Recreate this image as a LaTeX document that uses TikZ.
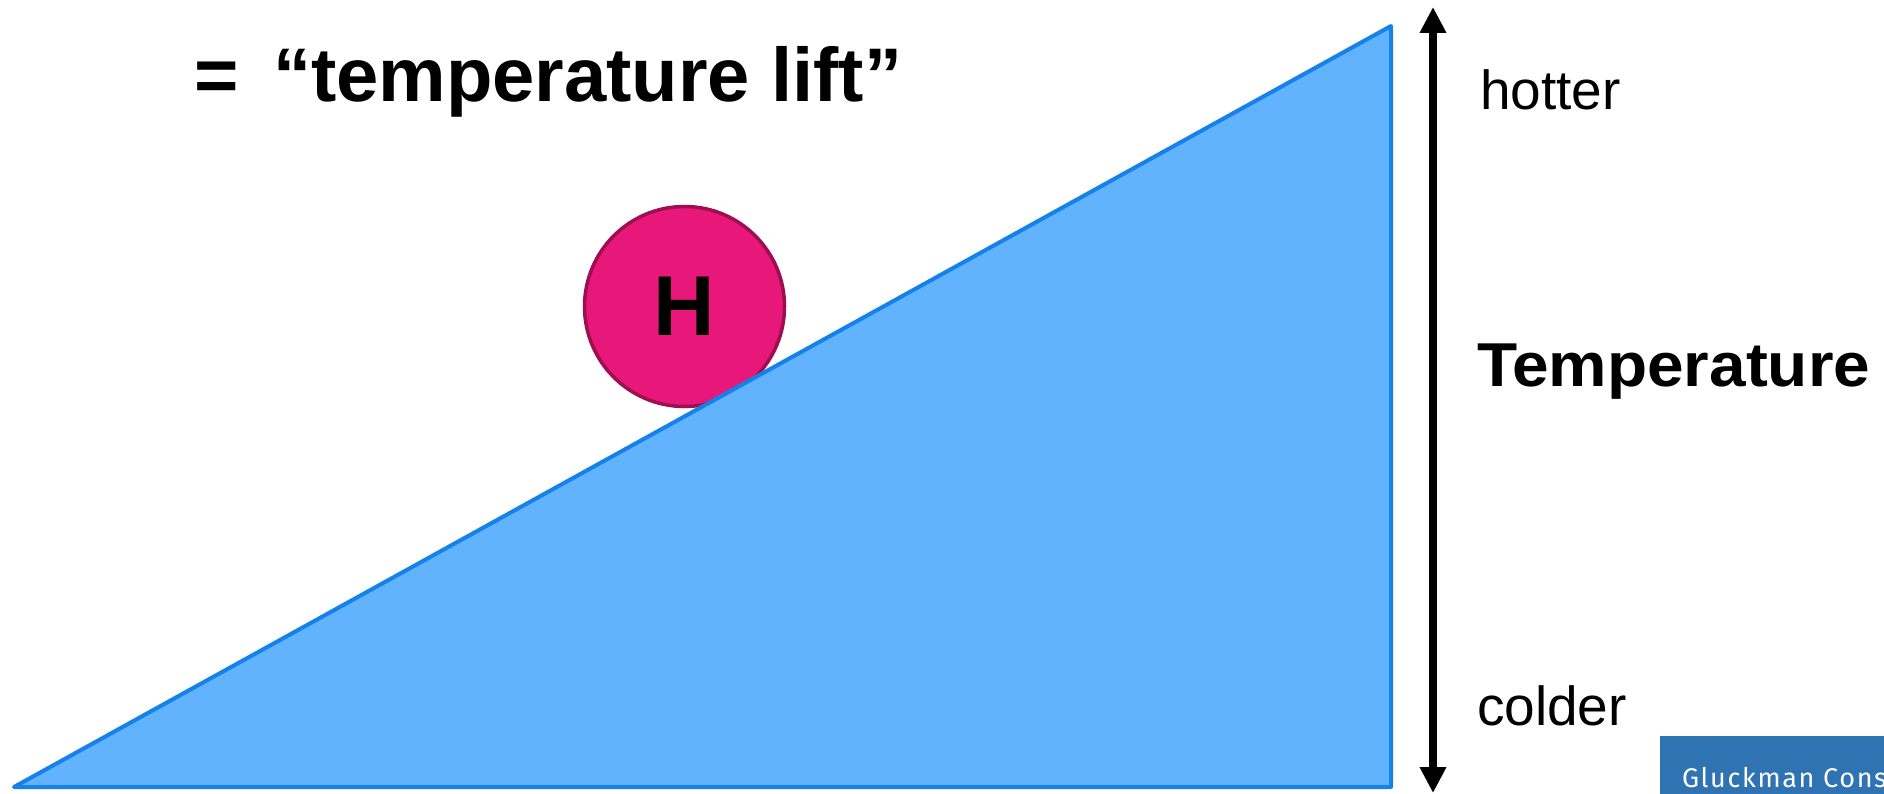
\documentclass[tikz,border=0pt]{standalone}
\usepackage{fontspec}
\setmainfont{Liberation Sans}
\newfontfamily\boxfont[LetterSpace=6]{Fira Sans}
\newfontfamily\wideboldfont[FakeStretch=1.06]{Liberation Sans Bold}
\usetikzlibrary{arrows.meta}
\definecolor{triFill}{HTML}{61B3FD}
\definecolor{triEdge}{HTML}{1681E8}
\definecolor{hFill}{HTML}{E8187A}
\definecolor{hEdge}{HTML}{A00E52}
\definecolor{boxBlue}{HTML}{2F73B3}
\begin{document}
\begin{tikzpicture}[x=1pt,y=-1pt,
  lbl/.style={anchor=base west, inner sep=0pt, outer sep=0pt, text=black},
  bigbold/.style={font=\fontsize{76}{80}\selectfont\bfseries},
  side/.style={font=\fontsize{55}{60}\selectfont},
  axisarrow/.style={{Triangle[width=25pt,length=26pt]}-{Triangle[width=25pt,length=26pt]}, line width=8pt}
]
\useasboundingbox (0,0) rectangle (1884,794);
% title
\node[lbl, bigbold] (eq) at (194,102) {=};
\node[lbl, bigbold] (lift) at (273,102) {“temperature lift”};
% ball
\node[circle, inner sep=0pt, minimum size=200pt, fill=hFill, draw=hEdge, line width=3.5pt,
      font=\fontsize{85}{90}\selectfont\bfseries] (H) at (684.5,306.5) {H};
% slope
\coordinate (A) at (14,787);
\coordinate (B) at (1391,26);
\coordinate (C) at (1391,787);
\draw[triEdge, fill=triFill, line width=4pt, line join=round] (A) -- (B) -- (C) -- cycle;
% temperature axis
\coordinate (top) at (1433,7);
\coordinate (bot) at (1433,793);
\draw[axisarrow] (top) -- (bot);
\node[lbl, side] (hot) at (1480,110) {hotter};
\node[lbl, side] (cold) at (1477,725) {colder};
\node[lbl, font=\wideboldfont\fontsize{62}{66}\selectfont] (temp) at (1477,386) {Temperature};
% corner badge
\begin{scope}
\clip (1660,736) rectangle (1884,794);
\node[anchor=north west, inner sep=0pt, fill=boxBlue, minimum width=224pt, minimum height=58pt] (badge) at (1660,736) {};
\node[lbl, text=white, font=\boxfont\fontsize{27}{30}\selectfont] (gc) at (1682,787) {Gluckman Cons};
\end{scope}
\end{tikzpicture}
\end{document}
